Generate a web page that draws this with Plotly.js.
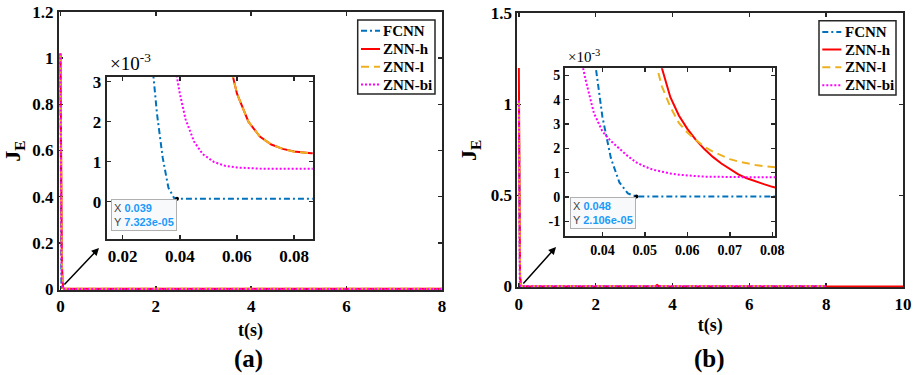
<!DOCTYPE html>
<html>
<head>
<meta charset="utf-8">
<script src="https://cdn.plot.ly/plotly-3.0.1.min.js"></script>
<style>html,body{margin:0;padding:0;background:#fff;}#chart{width:914px;height:375px;}</style>
</head>
<body>
<div id="chart"></div>
<script>
// ---------- data ----------
const seriesNames = ['FCNN', 'ZNN-h', 'ZNN-l', 'ZNN-bi'];

// Panel (a)
const tA = [0, 0.002, 0.005, 0.01, 0.015, 0.02, 0.025, 0.03, 0.032, 0.034, 0.036, 0.038, 0.039, 0.04, 0.042, 0.045, 0.048, 0.052, 0.056, 0.06, 0.064, 0.068, 0.072, 0.076, 0.08, 0.086, 0.1, 0.2, 1, 2, 4, 6, 8];
const fcnnA = [1.02, 0.6, 0.3, 0.1, 0.035, 0.013, 0.0065, 0.0037, 0.0022, 0.0011, 0.00035, 0.00009, 7.323e-5, 7.3e-5, 7.3e-5, 7.3e-5, 7.3e-5, 7.3e-5, 7.3e-5, 7.3e-5, 7.3e-5, 7.3e-5, 7.3e-5, 7.3e-5, 7.3e-5, 7.3e-5, 7.3e-5, 7.3e-5, 7.3e-5, 7.3e-5, 7.3e-5, 7.3e-5, 7.3e-5];
const znnhA = [1.02, 0.9, 0.75, 0.56, 0.42, 0.3, 0.2, 0.13, 0.1, 0.08, 0.06, 0.045, 0.04, 0.0315, 0.0236, 0.0155, 0.0103, 0.0062, 0.0039, 0.0027, 0.002, 0.00163, 0.00143, 0.00132, 0.001255, 0.00121, 0.00119, 0.00118, 0.00118, 0.00118, 0.00118, 0.00118, 0.00118];
const znnlA = [1.02, 0.9, 0.75, 0.56, 0.42, 0.3, 0.2, 0.13, 0.1, 0.08, 0.06, 0.045, 0.04, 0.0315, 0.0236, 0.0155, 0.0103, 0.0062, 0.0039, 0.0027, 0.002, 0.00163, 0.00143, 0.00132, 0.00125, 0.00121, 0.00119, 0.00118, 0.00118, 0.00118, 0.00118, 0.00118, 0.00118];
const znnbiA = [1.02, 0.8, 0.55, 0.3, 0.16, 0.08, 0.04, 0.0145, 0.0098, 0.0069, 0.0049, 0.0036, 0.0031, 0.0027, 0.00206, 0.0015, 0.00119, 0.00099, 0.000895, 0.000854, 0.000835, 0.000827, 0.000823, 0.000821, 0.00082, 0.00082, 0.00082, 0.00082, 0.00082, 0.00082, 0.00082, 0.00082, 0.00082];
const tipAX = [0.039], tipAY = [7.323e-5];

// Panel (b)
const tB = [0, 0.002, 0.005, 0.01, 0.015, 0.02, 0.025, 0.03, 0.034, 0.036, 0.038, 0.04, 0.042, 0.044, 0.046, 0.048, 0.05, 0.052, 0.054, 0.056, 0.058, 0.06, 0.062, 0.064, 0.066, 0.068, 0.07, 0.072, 0.074, 0.076, 0.078, 0.08, 0.082, 0.1, 0.2, 1, 2, 3.55, 3.6, 3.65, 4, 6, 8, 10];
const fcnnB = [1.02, 0.85, 0.6, 0.35, 0.2, 0.1, 0.05, 0.025, 0.012, 0.0085, 0.0059, 0.0033, 0.0016, 0.0006, 0.00015, 2.106e-5, 2.1e-5, 2.1e-5, 2.1e-5, 2.1e-5, 2.1e-5, 2.1e-5, 2.1e-5, 2.1e-5, 2.1e-5, 2.1e-5, 2.1e-5, 2.1e-5, 2.1e-5, 2.1e-5, 2.1e-5, 2.1e-5, 2.1e-5, 2.1e-5, 2.1e-5, 2.1e-5, 2.1e-5, 2.1e-5, 2.1e-5, 2.1e-5, 2.1e-5, 2.1e-5, 2.1e-5, null];
const znnhB = [1.2, 1.05, 0.8, 0.5, 0.32, 0.2, 0.13, 0.08, 0.055, 0.045, 0.037, 0.028, 0.022, 0.0175, 0.0138, 0.0108, 0.0085, 0.0067, 0.0053, 0.0041, 0.00335, 0.0028, 0.00235, 0.00197, 0.00165, 0.00138, 0.00115, 0.00093, 0.00077, 0.00064, 0.00053, 0.00042, 0.00033, 0.0001, 0.00001, 0, 0, 0, 0.008, 0, 0, 0, 0, 0];
const znnlB = [1.02, 0.9, 0.75, 0.48, 0.31, 0.2, 0.12, 0.075, 0.05, 0.04, 0.032, 0.025, 0.02, 0.016, 0.0125, 0.0098, 0.0076, 0.0059, 0.00455, 0.0037, 0.00305, 0.00265, 0.00235, 0.00207, 0.00187, 0.0017, 0.00156, 0.00146, 0.00138, 0.00132, 0.00127, 0.00123, 0.0012, 0.00116, 0.00115, 0.00115, 0.00115, 0.00115, 0.00115, 0.00115, 0.00115, 0.00115, 0.00115, null];
const znnbiB = [1.02, 0.82, 0.55, 0.27, 0.13, 0.06, 0.025, 0.012, 0.0065, 0.00485, 0.00345, 0.0027, 0.0023, 0.00197, 0.00168, 0.00142, 0.00125, 0.00112, 0.00103, 0.00097, 0.00092, 0.00088, 0.00086, 0.00084, 0.00083, 0.00082, 0.00081, 0.00081, 0.00081, 0.00081, 0.00081, 0.00081, 0.00081, 0.00081, 0.00081, 0.00081, 0.00081, 0.00081, 0.00081, 0.00081, 0.00081, 0.00081, 0.00081, null];
const tipBX = [0.048], tipBY = [2.106e-5];

// inset tick labels (units of 1e-3)
const insetAYTicks = [0, 0.001, 0.002, 0.003];
const insetAYText = ['0', '1', '2', '3'];
const insetBYTicks = [-0.001, 0, 0.001, 0.002, 0.003, 0.004, 0.005];
const insetBYText = ['-1', '0', '1', '2', '3', '4', '5'];

// ---------- styles ----------
const styles = [
  {color: '#0072BD', dash: '6px,3px,2px,3px'},
  {color: '#FF0000', dash: 'solid'},
  {color: '#EDB120', dash: '8px,5px'},
  {color: '#FF00FF', dash: '2px,2px'}
];
const serif = 'Liberation Serif';

const traces = [];
function addPanel(t, ys, xa, ya, xai, yai) {
  ys.forEach((y, i) => {
    traces.push({x: t, y: y, xaxis: xa, yaxis: ya, type: 'scatter', mode: 'lines',
      name: seriesNames[i], showlegend: false,
      line: {color: styles[i].color, dash: styles[i].dash, width: 2}});
  });
  ys.forEach((y, i) => {
    traces.push({x: t, y: y, xaxis: xai, yaxis: yai, type: 'scatter', mode: 'lines',
      name: seriesNames[i], showlegend: false, hoverinfo: 'skip',
      line: {color: styles[i].color, dash: styles[i].dash, width: 2}});
  });
}
addPanel(tA, [fcnnA, znnhA, znnlA, znnbiA], 'x', 'y', 'x2', 'y2');
addPanel(tB, [fcnnB, znnhB, znnlB, znnbiB], 'x3', 'y3', 'x4', 'y4');
traces.push({x: tipAX, y: tipAY, xaxis: 'x2', yaxis: 'y2', mode: 'markers', showlegend: false,
  marker: {color: '#000', size: 4}});
traces.push({x: tipBX, y: tipBY, xaxis: 'x4', yaxis: 'y4', mode: 'markers', showlegend: false,
  marker: {color: '#000', size: 4}});

function axisBase(size) {
  return {
    showline: true, linecolor: '#262626', linewidth: 2, mirror: 'ticks',
    ticks: 'inside', ticklen: 4, tickwidth: 1.5, tickcolor: '#262626',
    showgrid: false, zeroline: false,
    tickfont: {family: serif, size: size, color: '#000', weight: 'bold'},
    layer: 'below traces', automargin: false
  };
}
const W = 914, H = 375;
const px = v => v / W, py = v => 1 - v / H;

// legend drawn as a boxed key (shapes + texts)
const shapes = [];
const annotations = [];
function addKey(box, x0, x1, xt, rows) {
  shapes.push({type: 'rect', xref: 'paper', yref: 'paper', x0: px(box[0]), x1: px(box[1]), y0: py(box[3]), y1: py(box[2]),
    line: {color: '#262626', width: 1.5}, fillcolor: '#fff', layer: 'above'});
  rows.forEach((ry, i) => {
    shapes.push({type: 'line', xref: 'paper', yref: 'paper', x0: px(x0), x1: px(x1), y0: py(ry), y1: py(ry),
      line: {color: styles[i].color, width: 2, dash: styles[i].dash}, layer: 'above'});
    annotations.push({xref: 'paper', yref: 'paper', x: px(xt), y: py(ry), xanchor: 'left', yanchor: 'middle', showarrow: false,
      text: seriesNames[i], font: {family: serif, size: 15, weight: 'bold', color: '#000'}});
  });
}
addKey([357.7, 435, 20, 94], 361, 380, 381, [30.7, 49, 66.7, 84.5]);
addKey([819, 896, 20.7, 95], 822.3, 841.3, 842.5, [32, 49.5, 67.3, 85.3]);

annotations.push(
  {xref: 'paper', yref: 'paper', x: px(108), y: py(76), xanchor: 'left', yanchor: 'bottom', showarrow: false,
    text: '×10<sup>-3</sup>', font: {family: serif, size: 19, color: '#000'}},
  {xref: 'paper', yref: 'paper', x: px(566), y: py(67.5), xanchor: 'left', yanchor: 'bottom', showarrow: false,
    text: '×10<sup>-3</sup>', font: {family: serif, size: 15, color: '#000'}},
  {xref: 'paper', yref: 'paper', x: px(99), y: py(248), ax: -36, ay: 38, showarrow: true, arrowhead: 2, arrowsize: 1,
    arrowwidth: 1.5, arrowcolor: '#000', text: '', standoff: 0},
  {xref: 'paper', yref: 'paper', x: px(556), y: py(247), ax: -34, ay: 38, showarrow: true, arrowhead: 2, arrowsize: 1,
    arrowwidth: 1.5, arrowcolor: '#000', text: '', standoff: 0},
  {xref: 'x2', yref: 'y2', x: tipAX[0], y: tipAY[0], xanchor: 'right', yanchor: 'top', showarrow: false, align: 'left',
    text: '<span style="color:#444">X</span> <b><span style="color:#1A9BFA">0.039</span></b><br><span style="color:#444">Y</span> <b><span style="color:#1A9BFA">7.323e-05</span></b>',
    font: {family: 'Liberation Sans', size: 11}, bgcolor: 'rgba(248,249,251,0.95)', bordercolor: '#b0b0b0', borderwidth: 1, borderpad: 2},
  {xref: 'x4', yref: 'y4', x: tipBX[0], y: tipBY[0], xanchor: 'right', yanchor: 'top', showarrow: false, align: 'left',
    text: '<span style="color:#444">X</span> <b><span style="color:#1A9BFA">0.048</span></b><br><span style="color:#444">Y</span> <b><span style="color:#1A9BFA">2.106e-05</span></b>',
    font: {family: 'Liberation Sans', size: 11}, bgcolor: 'rgba(248,249,251,0.95)', bordercolor: '#b0b0b0', borderwidth: 1, borderpad: 2},
  {xref: 'paper', yref: 'paper', x: px(248), y: py(359), xanchor: 'center', yanchor: 'middle', showarrow: false,
    text: '(a)', font: {family: serif, size: 25, weight: 'bold', color: '#000'}},
  {xref: 'paper', yref: 'paper', x: px(709), y: py(359), xanchor: 'center', yanchor: 'middle', showarrow: false,
    text: '(b)', font: {family: serif, size: 25, weight: 'bold', color: '#000'}}
);

const layout = {
  width: W, height: H,
  margin: {l: 0, r: 0, t: 0, b: 0},
  paper_bgcolor: '#fff', plot_bgcolor: '#fff',
  font: {family: serif, color: '#000'},
  showlegend: false,
  xaxis: Object.assign(axisBase(17), {domain: [px(59), px(442)], range: [-0.03, 8], tickvals: [0, 2, 4, 6, 8], anchor: 'y',
    title: {text: 't(s)', font: {family: serif, size: 18, weight: 'bold', color: '#000'}, standoff: 8}}),
  yaxis: Object.assign(axisBase(17), {domain: [py(290), py(12)], range: [-0.004, 1.2], tickvals: [0, 0.2, 0.4, 0.6, 0.8, 1, 1.2], anchor: 'x',
    title: {text: 'J<sub>E</sub>', font: {family: serif, size: 22, weight: 'bold', color: '#000'}, standoff: 8}}),
  xaxis2: Object.assign(axisBase(17), {domain: [px(106.7), px(312.7)], range: [0.0144, 0.0865], tickvals: [0.02, 0.04, 0.06, 0.08], anchor: 'y2', layer: 'above traces'}),
  yaxis2: Object.assign(axisBase(17), {domain: [py(239.3), py(76.7)], range: [-0.00094, 0.003125], tickvals: insetAYTicks, ticktext: insetAYText, anchor: 'x2', layer: 'above traces'}),
  xaxis3: Object.assign(axisBase(17), {domain: [px(517.3), px(903)], range: [-0.04, 10], tickvals: [0, 2, 4, 6, 8, 10], anchor: 'y3',
    title: {text: 't(s)', font: {family: serif, size: 18, weight: 'bold', color: '#000'}, standoff: 6}}),
  yaxis3: Object.assign(axisBase(17), {domain: [py(287.3), py(13.3)], range: [-0.005, 1.5], tickvals: [0, 0.5, 1, 1.5], anchor: 'x3',
    title: {text: 'J<sub>E</sub>', font: {family: serif, size: 22, weight: 'bold', color: '#000'}, standoff: 8}}),
  xaxis4: Object.assign(axisBase(14), {domain: [px(565), px(775.3)], range: [0.0312, 0.0807], tickvals: [0.04, 0.05, 0.06, 0.07, 0.08], anchor: 'y4', layer: 'above traces'}),
  yaxis4: Object.assign(axisBase(14), {domain: [py(236), py(68.3)], range: [-0.0016, 0.00529], tickvals: insetBYTicks, ticktext: insetBYText, anchor: 'x4', layer: 'above traces'}),
  shapes: shapes,
  annotations: annotations
};

Plotly.newPlot('chart', traces, layout, {displayModeBar: false, staticPlot: true});
</script>
</body>
</html>
